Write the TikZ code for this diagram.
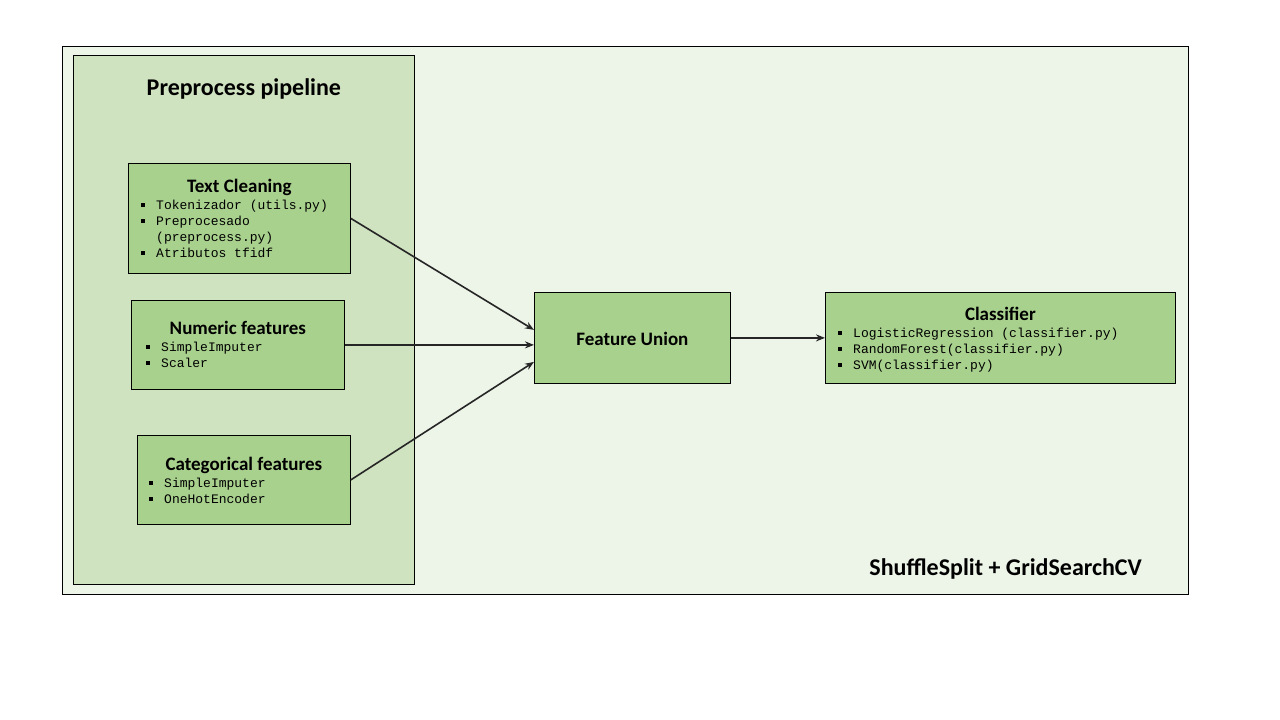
\documentclass[tikz,border=0pt]{standalone}
\usepackage{fontspec}
\setmainfont{Carlito}
\newfontfamily\codefont{Liberation Mono}
\usetikzlibrary{arrows.meta}
\definecolor{outerfill}{RGB}{237,244,232}
\definecolor{pipefill}{RGB}{208,227,192}
\definecolor{boxfill}{RGB}{169,209,142}
\newcommand{\sqbullet}{\makebox[15pt][l]{\rule[0.22em]{0.3em}{0.3em}}}
\newcommand{\nobullet}{\makebox[15pt][l]{}}
\begin{document}
\begin{tikzpicture}[x=1pt,y=-1pt,
    box/.style={draw,fill=boxfill,line width=0.8pt,anchor=north west,inner sep=0pt},
    heading/.style={anchor=base,inner sep=0pt,font=\bfseries\fontsize{19}{21}\selectfont},
    bigheading/.style={inner sep=0pt,font=\bfseries\fontsize{24}{26}\selectfont},
    items/.style={anchor=base west,align=left,inner sep=0pt,font=\codefont\fontsize{13}{16}\selectfont},
    flow/.style={line width=1.6pt,draw=black!85,-{Stealth[length=9pt,width=7pt]}}]
  \useasboundingbox (0,0) rectangle (1280,720);
  % frames
  \node[draw,fill=outerfill,line width=0.8pt,anchor=north west,inner sep=0pt,
        minimum width=1126pt,minimum height=548pt] (cv) at (62,46) {};
  \node[draw,fill=pipefill,line width=0.8pt,anchor=north west,inner sep=0pt,
        minimum width=341pt,minimum height=529pt] (pipe) at (73,55) {};
  \node[bigheading,anchor=base] (pipe title) at ([yshift=-40.7pt]pipe.north) {Preprocess pipeline};
  \node[bigheading,anchor=base east] (cv title) at (1142,575.7) {ShuffleSplit + GridSearchCV};
  % preprocessing steps (list anchored on its last line)
  \node[box,minimum width=222pt,minimum height=110pt] (clean) at (128,163) {};
  \node[heading] (clean title) at ([yshift=-29pt]clean.north) {Text Cleaning};
  \node[items] (clean list) at (141,257.5) {\sqbullet Tokenizador (utils.py)\\
    \sqbullet Preprocesado\\ \nobullet (preprocess.py)\\ \sqbullet Atributos tfidf};
  \node[box,minimum width=213pt,minimum height=89pt] (num) at (131,300) {};
  \node[heading] (num title) at ([yshift=-34pt]num.north) {Numeric features};
  \node[items] (num list) at (146,367.5) {\sqbullet SimpleImputer\\ \sqbullet Scaler};
  \node[box,minimum width=213pt,minimum height=89pt] (cat) at (137,435) {};
  \node[heading] (cat title) at ([yshift=-35pt]cat.north) {Categorical features};
  \node[items] (cat list) at (149,503.5) {\sqbullet SimpleImputer\\ \sqbullet OneHotEncoder};
  % union and model
  \node[box,minimum width=196pt,minimum height=91pt] (union) at (534,292) {};
  \node[heading] (union title) at ([yshift=-7.5pt]union.center) {Feature Union};
  \node[box,minimum width=350pt,minimum height=91pt] (clf) at (825,292) {};
  \node[heading] (clf title) at ([yshift=-28pt]clf.north) {Classifier};
  \node[items] (clf list) at (838,369.5) {\sqbullet LogisticRegression (classifier.py)\\
    \sqbullet RandomForest(classifier.py)\\ \sqbullet SVM(classifier.py)};
  % connectors
  \draw[flow] (clean.east) -- ([yshift=8pt]union.west);
  \draw[flow] (num.east) -- ([yshift=-7pt]union.west);
  \draw[flow] (cat.east) -- ([yshift=-24pt]union.west);
  \draw[flow] (union.east) -- (clf.west);
\end{tikzpicture}
\end{document}
